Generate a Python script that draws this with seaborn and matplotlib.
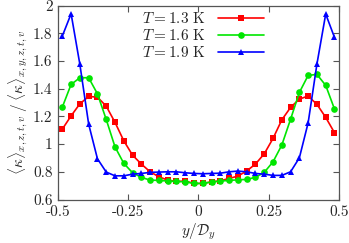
import numpy as np
import pandas as pd
import matplotlib
matplotlib.use("Agg")
import matplotlib.pyplot as plt
import seaborn as sns

# data
y_pos = [(-0.5 + (k + 0.5) / 32) for k in range(32)]
red_13 = [1.108, 1.204, 1.291, 1.344, 1.339, 1.274, 1.157, 1.024, 0.92, 0.856, 0.80, 0.764,
          0.74, 0.73, 0.733, 0.716, 0.716, 0.728, 0.735, 0.752, 0.769, 0.806, 0.856, 0.93,
          1.041, 1.175, 1.265, 1.325, 1.347, 1.287, 1.193, 1.082]
green_16 = [1.267, 1.431, 1.479, 1.479, 1.363, 1.178, 0.98, 0.861, 0.793, 0.76, 0.74, 0.738,
            0.733, 0.73, 0.728, 0.716, 0.716, 0.726, 0.733, 0.738, 0.742, 0.745, 0.76, 0.796,
            0.872, 0.993, 1.18, 1.373, 1.496, 1.503, 1.424, 1.253]
blue_19 = [1.78, 1.941, 1.575, 1.144, 0.894, 0.798, 0.771, 0.771, 0.783, 0.788, 0.796, 0.798,
           0.80, 0.80, 0.793, 0.788, 0.786, 0.788, 0.79, 0.80, 0.805, 0.80, 0.788, 0.783,
           0.774, 0.774, 0.80, 0.901, 1.154, 1.578, 1.939, 1.77]
labels = [r"$T = 1.3$ K", r"$T = 1.6$ K", r"$T = 1.9$ K"]
xticks = [-0.5, -0.25, 0, 0.25, 0.5]
xticklabels = ["-0.5", "-0.25", "0", "0.25", "0.5"]
yticks = [0.6, 0.8, 1.0, 1.2, 1.4, 1.6, 1.8, 2.0]
yticklabels = ["0.6", "0.8", "1", "1.2", "1.4", "1.6", "1.8", "2"]

df = pd.concat([
    pd.DataFrame({"y": y_pos, "val": red_13, "T": labels[0]}),
    pd.DataFrame({"y": y_pos, "val": green_16, "T": labels[1]}),
    pd.DataFrame({"y": y_pos, "val": blue_19, "T": labels[2]}),
])

sns.set_theme(style="ticks")
plt.rcParams["font.family"] = ["cmr10", "DejaVu Serif"]
plt.rcParams["mathtext.fontset"] = "cm"
plt.rcParams["axes.unicode_minus"] = False

fig = plt.figure(figsize=(3.49, 2.43), dpi=100)
ax = fig.add_axes([0.166, 0.179, 0.805, 0.798])

palette = {labels[0]: "#ff0000", labels[1]: "#00e600", labels[2]: "#0000ff"}
markers = {labels[0]: "s", labels[1]: "o", labels[2]: "^"}
sns.lineplot(data=df, x="y", y="val", hue="T", style="T", palette=palette,
             markers=markers, dashes=False, ax=ax, linewidth=1.2,
             markersize=4.8, markeredgewidth=0, legend=True)

ax.set_xlim(-0.5, 0.5)
ax.set_ylim(0.6, 2.0)
ax.set_xticks(xticks)
ax.set_xticklabels(xticklabels)
ax.set_yticks(yticks)
ax.set_yticklabels(yticklabels)
ax.tick_params(direction="in", top=True, right=True, length=4, width=0.8,
               color="#555555", labelsize=11, pad=4)
for s in ax.spines.values():
    s.set_color("#555555")
    s.set_linewidth(0.9)
ax.set_xlabel(r"$y/\mathcal{D}_y$", fontsize=11, labelpad=2)
ax.set_ylabel(r"$\langle\kappa\rangle_{x,z,t,v}\;/\;\langle\kappa\rangle_{x,y,z,t,v}$",
              fontsize=11, labelpad=2)

leg = ax.legend(loc="upper left", bbox_to_anchor=(0.265, 1.02), frameon=False,
                markerfirst=False, fontsize=11, handlelength=3.0, handletextpad=0.8,
                labelspacing=0.15, borderaxespad=0.2)

fig.savefig("out.png", dpi=100)
